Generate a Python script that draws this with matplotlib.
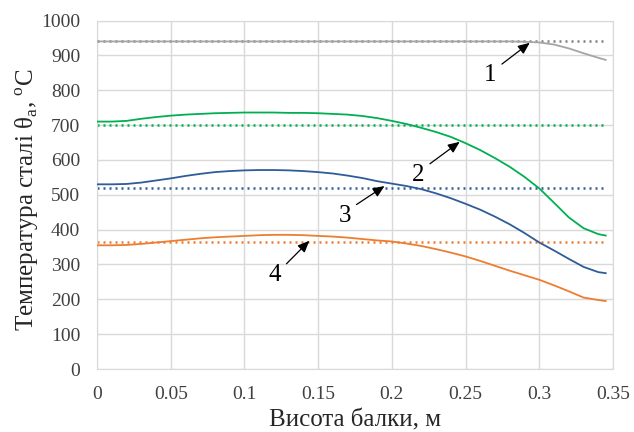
import matplotlib
matplotlib.use("Agg")
import matplotlib.pyplot as plt

plt.rcParams['font.family'] = ['Liberation Serif', 'DejaVu Serif']
plt.rcParams['mathtext.fontset'] = 'custom'
plt.rcParams['mathtext.rm'] = 'Liberation Serif'

x = [0.0, 0.01, 0.02, 0.03, 0.04, 0.05, 0.06, 0.07, 0.08, 0.09, 0.10, 0.11, 0.12,
     0.13, 0.14, 0.15, 0.16, 0.17, 0.18, 0.19, 0.20, 0.21, 0.22, 0.23, 0.24, 0.25,
     0.26, 0.27, 0.28, 0.29, 0.30, 0.31, 0.32, 0.33, 0.34, 0.345]

curve1 = [940, 940, 940, 940, 940, 940, 940, 940, 940, 940, 940, 940, 940,
          940, 940, 940, 940, 940, 940, 940, 940, 940, 940, 940, 940, 940,
          940, 940, 940, 939, 937, 931, 920, 906, 893, 887]
curve2 = [710, 710, 712, 718, 723, 727, 730, 732, 734, 735, 736, 736, 736,
          735, 735, 734, 732, 730, 726, 720, 712, 703, 692, 680, 666, 648,
          628, 605, 580, 551, 518, 477, 435, 404, 387, 383]
curve3 = [530, 530, 531, 535, 541, 547, 554, 560, 565, 568, 570, 571, 571,
          570, 568, 565, 561, 555, 548, 539, 532, 525, 516, 504, 490, 474,
          457, 437, 415, 390, 363, 340, 316, 293, 278, 275]
curve4 = [355, 355, 356, 359, 363, 367, 371, 375, 378, 380, 382, 384, 385,
          385, 384, 382, 380, 377, 373, 369, 366, 360, 353, 344, 334, 323,
          310, 296, 282, 269, 256, 240, 223, 205, 198, 195]

dotted_levels = [940, 700, 520, 365]
dotted_x = [0.0, 0.345]

labels = ['1', '2', '3', '4']
label_text_xy = [(0.2666, 843), (0.2178, 557), (0.168, 440), (0.1205, 270)]
arrow_tip_xy = [(0.2935, 936), (0.2460, 652), (0.1950, 525), (0.1440, 368)]

x_ticks = [0, 0.05, 0.1, 0.15, 0.2, 0.25, 0.3, 0.35]
x_tick_labels = ['0', '0.05', '0.1', '0.15', '0.2', '0.25', '0.3', '0.35']
y_ticks = list(range(0, 1001, 100))

line_colors = ['#A5A5A5', '#00B050', '#2E5C98', '#ED7D31']
dot_colors = ['#7F7F7F', '#00B050', '#2E5C98', '#ED7D31']

fig = plt.figure(figsize=(6.34, 4.32), dpi=100)
ax = fig.add_axes([0.153, 0.1458, 0.814, 0.8067])

for c, col in zip([curve1, curve2, curve3, curve4], line_colors):
    ax.plot(x, c, color=col, lw=1.3, zorder=3)
for lev, col in zip(dotted_levels, dot_colors):
    ax.plot(dotted_x, [lev, lev], color=col, lw=1.8, linestyle=(0, (0.8, 1.6)), zorder=2)

for lab, txy, tip in zip(labels, label_text_xy, arrow_tip_xy):
    ax.text(txy[0], txy[1], lab, fontsize=18, ha='center', va='center', zorder=5)
    tail = (txy[0] + 0.008, txy[1] + 32)
    ax.annotate('', xy=tip, xytext=tail,
                arrowprops=dict(arrowstyle='-|>,head_length=0.7,head_width=0.3',
                                color='#595959', lw=0.9, fc='black', ec='black',
                                shrinkA=0, shrinkB=0), zorder=5)

ax.set_xlim(0, 0.35)
ax.set_ylim(0, 1000)
ax.set_xticks(x_ticks)
ax.set_xticklabels(x_tick_labels)
ax.set_yticks(y_ticks)
ax.tick_params(axis='both', length=0, labelsize=14, colors='#404040')
ax.tick_params(axis='x', pad=12)
ax.tick_params(axis='y', pad=12)
ax.grid(True, color='#D9D9D9', lw=1.0)
ax.set_axisbelow(True)
for s in ax.spines.values():
    s.set_color('#D9D9D9')

ax.set_xlabel('Висота балки, м', fontsize=18, color='#262626', labelpad=5)
ax.set_ylabel('Температура сталі θ$_\\mathregular{a}$, $^\\mathregular{o}$C',
              fontsize=18, color='#262626')
ax.yaxis.set_label_coords(-0.108, 0.485)

fig.savefig('out.png', dpi=100)
